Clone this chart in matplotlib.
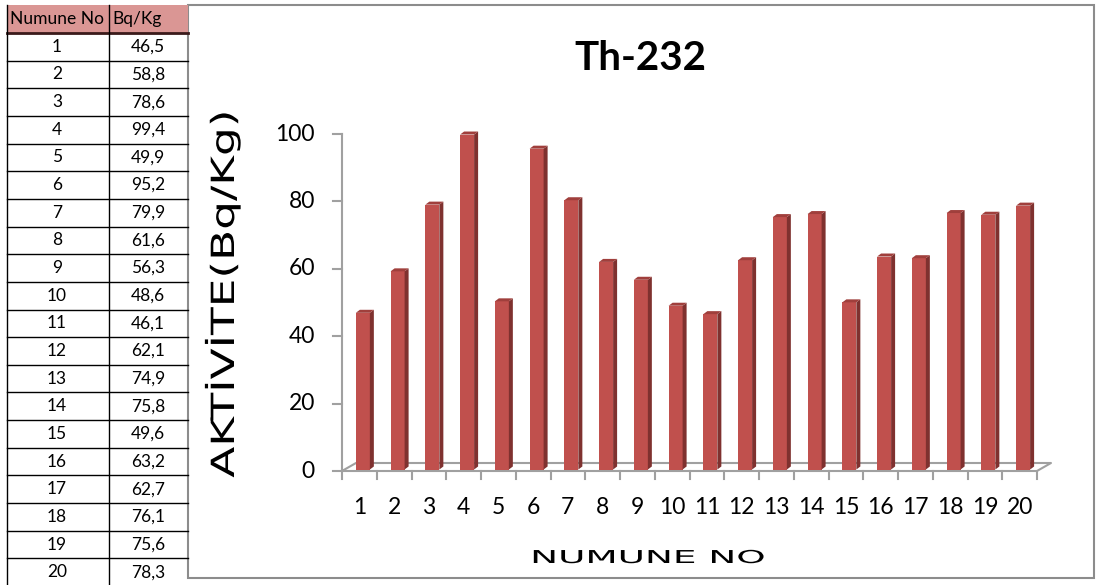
import matplotlib
matplotlib.use('Agg')
import matplotlib.pyplot as plt
from matplotlib.patches import Polygon, Rectangle
from matplotlib.patheffects import AbstractPathEffect
from matplotlib.transforms import Affine2D

W, H = 1099, 585

sample_no = list(range(1, 21))
activity = [46.5, 58.8, 78.6, 99.4, 49.9, 95.2, 79.9, 61.6, 56.3, 48.6,
            46.1, 62.1, 74.9, 75.8, 49.6, 63.2, 62.7, 76.1, 75.6, 78.3]
y_ticks = [0, 20, 40, 60, 80, 100]

TITLE = 'Th-232'
Y_LABEL = 'AKTİVİTE(Bq/Kg)'
X_LABEL = 'NUMUNE NO'
TABLE_HEAD = ['Numune No', 'Bq/Kg']

FRONT = '#c0504d'
SIDE = '#7f312f'
TOP = '#a03f3c'
GRID = '#a0a0a0'


class Stretch(AbstractPathEffect):
    # widen the glyphs along the text direction, about the text centre
    def __init__(self, sx):
        super().__init__()
        self.sx = sx

    def draw_path(self, renderer, gc, tpath, affine, rgbFace=None):
        ext = tpath.get_extents()
        cx = (ext.x0 + ext.x1) / 2
        tr = Affine2D().translate(-cx, 0).scale(self.sx, 1).translate(cx, 0) + affine
        renderer.draw_path(gc, tpath, tr, rgbFace)


def fx(px):
    return px / W


def fy(py):
    return 1 - py / H


fig = plt.figure(figsize=(W / 100, H / 100), dpi=100)

# ---- table on the left ----
col_x = [7, 109, 188]
head_top, head_bot = 5, 33
row_h = 27.65
fs_tab = 12.5
fig.patches.append(Rectangle((fx(col_x[0]), fy(head_bot)), fx(col_x[2] - col_x[0]),
                             (head_bot - head_top) / H, transform=fig.transFigure,
                             facecolor='#da9694', edgecolor='none'))
fig.text(fx(10), fy(19), TABLE_HEAD[0], fontsize=fs_tab, family='Lato', va='center')
fig.text(fx(112), fy(19), TABLE_HEAD[1], fontsize=fs_tab, family='Lato', va='center')
fig.lines.append(plt.Line2D([fx(col_x[0]), fx(col_x[2])], [fy(head_bot)] * 2,
                            transform=fig.transFigure, color='#3a1a1a', lw=2))
for i, (n, v) in enumerate(zip(sample_no, activity)):
    top = head_bot + i * row_h
    bot = top + row_h
    fig.lines.append(plt.Line2D([fx(col_x[0]), fx(col_x[2])], [fy(bot)] * 2,
                                transform=fig.transFigure, color='black', lw=1))
    fig.text(fx(57), fy((top + bot) / 2), str(n), fontsize=fs_tab, family='Lato',
             ha='center', va='center')
    fig.text(fx(148), fy((top + bot) / 2), f'{v:.1f}'.replace('.', ','), fontsize=fs_tab,
             family='Lato', ha='center', va='center')
for x in col_x[:2]:
    fig.lines.append(plt.Line2D([fx(x), fx(x)], [fy(head_top), 0],
                                transform=fig.transFigure, color='black', lw=1))

# ---- chart frame ----
fig.patches.append(Rectangle((fx(188), fy(578)), fx(1094 - 188), (578 - 5) / H,
                             transform=fig.transFigure, facecolor='white',
                             edgecolor='#8c8c8c', lw=1.5, zorder=-1))

fig.text(fx(640), fy(70), TITLE, fontsize=29, family='Lato', weight='bold',
         ha='center', va='baseline')
fig.text(fx(223), fy(294), Y_LABEL, fontsize=23, family='DejaVu Sans', rotation=90,
         ha='center', va='center', path_effects=[Stretch(1.42)])
fig.text(fx(648), fy(563), X_LABEL, fontsize=12.8, family='DejaVu Sans',
         ha='center', va='baseline', path_effects=[Stretch(2.1)])

# ---- plot area ----
ax = fig.add_axes([fx(342), fy(471), fx(1037 - 342), (471 - 134) / H])
ax.set_xlim(0.5, 20.5)
ax.set_ylim(0, 100)
ax.axis('off')

xs_per_px = 20 / (1037 - 342)
ys_per_px = 100 / (471 - 134)
fdx, fdy = 14 * xs_per_px, 8 * ys_per_px      # floor depth
bdx, bdy = 4 * xs_per_px, 3 * ys_per_px       # bar depth
base = 1.5 * ys_per_px
bar_w = 14 * xs_per_px
shift = 0.1

# floor and wall axis
ax.plot([0.5, 20.5, 20.5 + fdx, 0.5 + fdx, 0.5], [0, 0, fdy, fdy, 0],
        color=GRID, lw=1.5, clip_on=False)
ax.plot([0.5, 0.5], [0, 100], color=GRID, lw=1.5, clip_on=False)
for t in y_ticks:
    ax.plot([0.5 - 9 * xs_per_px, 0.5], [t, t], color=GRID, lw=1.5, clip_on=False)
    ax.text(0.5 - 27 * xs_per_px, t, str(t), fontsize=16.5, family='Lato',
            ha='right', va='center')
for k in range(len(sample_no) + 1):
    ax.plot([0.5 + k] * 2, [0, -8 * ys_per_px], color=GRID, lw=1.5, clip_on=False)
for n in sample_no:
    ax.text(n, -37 * ys_per_px, str(n), fontsize=16.5, family='Lato',
            ha='center', va='center')

# bars: front face from ax.bar, side and top faces added as polygons
ax.bar([n + shift for n in sample_no], activity, bottom=base, width=bar_w,
       color=FRONT, zorder=3, clip_on=False)
for n, v in zip(sample_no, activity):
    x0 = n + shift - bar_w / 2
    x1 = n + shift + bar_w / 2
    vt = v + base
    ax.add_patch(Polygon([(x1, base), (x1 + bdx, base + bdy), (x1 + bdx, vt + bdy), (x1, vt)],
                         closed=True, facecolor=SIDE, edgecolor='none', zorder=3,
                         clip_on=False))
    ax.add_patch(Polygon([(x0, vt), (x0 + bdx, vt + bdy), (x1 + bdx, vt + bdy), (x1, vt)],
                         closed=True, facecolor=TOP, edgecolor='none', zorder=3,
                         clip_on=False))

fig.savefig('out.png', dpi=100)
